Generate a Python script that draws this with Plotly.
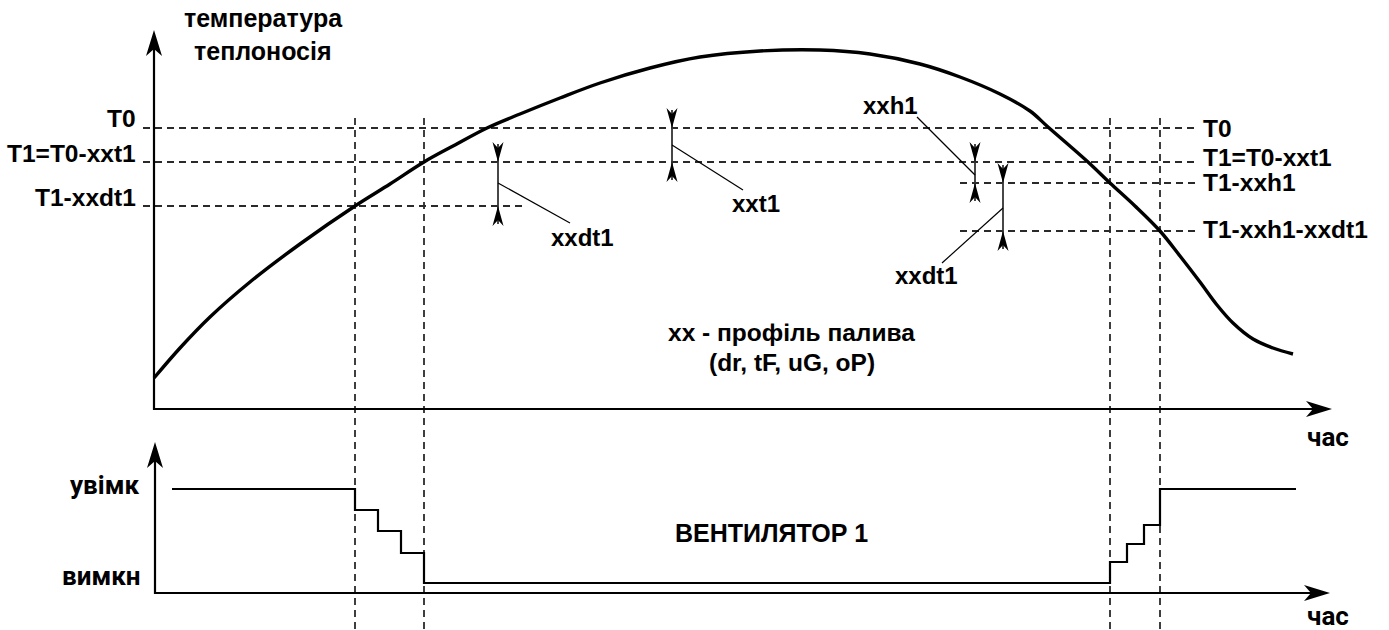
import plotly.graph_objects as go

W, H = 1389, 630

# temperature of the heat carrier over time (picture units, y grows downward)
curve_t = [154, 180, 210, 250, 300, 355, 390, 424, 455, 487, 520, 560, 600, 650, 700, 760,
           820, 870, 920, 960, 1000, 1030, 1048, 1088, 1110, 1135, 1160, 1180, 1200,
           1217, 1233, 1253, 1273, 1293]
curve_y = [378, 348, 317, 282, 244, 206, 184, 162, 145, 128, 114, 98, 83, 68, 57, 51,
           50, 54, 64, 77, 94, 111, 127, 162, 183, 206, 231, 256, 282,
           305, 323, 339, 348, 354]

# threshold levels
level_left = ["T0", "T1=T0-xxt1", "T1-xxdt1"]
level_left_y = [118, 153, 197]
level_right = ["T0", "T1=T0-xxt1", "T1-xxh1", "T1-xxh1-xxdt1"]
level_right_y = [128, 157, 182, 229]
level_y = [128, 162, 206, 183, 231]
level_x0 = [143, 143, 143, 960, 960]
level_x1 = [1197, 1197, 525, 1197, 1197]

# moments when the fan switches
switch_t = [355, 424, 1110, 1160]

# fan state (steps)
fan_t = [172, 355, 378, 401, 424, 1110, 1127, 1144, 1160, 1296]
fan_y = [489, 510, 531, 553, 583, 562, 544, 525, 489, 489]

# dimension markers between levels
dim_x = [498, 672, 975, 1003]
dim_top = [162, 128, 162, 183]
dim_bot = [206, 162, 183, 231]
dim_lead_y = [183, 145, 175, 208]
dim_lead_x1 = [570, 743, 917, 942]
dim_lead_y1 = [223, 190, 117, 263]
dim_label = ["xxdt1", "xxt1", "xxh1", "xxdt1"]
dim_label_x = [582, 756, 890, 926]
dim_label_y = [237, 203, 105, 275]

# axes: origin, top of y arrow, end of x arrow
axes_x0 = [154, 155]
axes_y0 = [409, 593]
axes_ytop = [30, 442]
axes_xend = [1332, 1330]

BOLD = "Liberation Sans"
NARROW = "Liberation Sans Narrow, Roboto"


def head(tx, ty, dx, dy, length=26, half=8, notch=7):
    bx, by = tx - length * dx, ty - length * dy
    px, py = -dy, dx
    nx, ny = tx - (length - notch) * dx, ty - (length - notch) * dy
    pts = [(tx, ty), (bx + half * px, by + half * py), (nx, ny), (bx - half * px, by - half * py)]
    return dict(type="path", xref="x", yref="y", line=dict(width=0), fillcolor="black",
                path="M" + " L".join(f"{x},{y}" for x, y in pts) + " Z")


fig = go.Figure()

# dashed guide lines
hx, hy = [], []
for y, x0, x1 in zip(level_y, level_x0, level_x1):
    hx += [x0, x1, None]
    hy += [y, y, None]
for t in switch_t:
    hx += [t, t, None]
    hy += [118, H, None]
fig.add_trace(go.Scatter(x=hx, y=hy, mode="lines",
                         line=dict(color="#2a2a2a", width=1.8, dash="7px,5px")))

# axes
ax_x, ax_y = [], []
for x0, y0, yt, xe in zip(axes_x0, axes_y0, axes_ytop, axes_xend):
    ax_x += [x0, x0, xe - 10, None]
    ax_y += [yt + 10, y0, y0, None]
fig.add_trace(go.Scatter(x=ax_x, y=ax_y, mode="lines", line=dict(color="black", width=2.2)))

# temperature curve
fig.add_trace(go.Scatter(x=curve_t, y=curve_y, mode="lines",
                         line=dict(color="black", width=3.4, shape="spline", smoothing=1)))

# fan state
fig.add_trace(go.Scatter(x=fan_t, y=fan_y, mode="lines",
                         line=dict(color="black", width=2.2, shape="hv")))

# dimension markers
dx_, dy_ = [], []
for x, t, b in zip(dim_x, dim_top, dim_bot):
    dx_ += [x, x, None]
    dy_ += [t - 18, b + 18, None]
fig.add_trace(go.Scatter(x=dx_, y=dy_, mode="lines", line=dict(color="#333", width=1.8)))
lx_, ly_ = [], []
for x, ly, lx1, ly1 in zip(dim_x, dim_lead_y, dim_lead_x1, dim_lead_y1):
    lx_ += [x, lx1, None]
    ly_ += [ly, ly1, None]
fig.add_trace(go.Scatter(x=lx_, y=ly_, mode="lines", line=dict(color="black", width=1.2)))

shapes = []
for x0, y0, yt, xe in zip(axes_x0, axes_y0, axes_ytop, axes_xend):
    shapes.append(head(x0, yt, 0, -1))
    shapes.append(head(xe, y0, 1, 0))
for x, t, b in zip(dim_x, dim_top, dim_bot):
    shapes.append(head(x, t, 0, 1, length=20, half=5.5, notch=6))
    shapes.append(head(x, b, 0, -1, length=20, half=5.5, notch=6))

ann = []
for txt, y in zip(level_left, level_left_y):
    ann.append(dict(x=138, y=y, text=txt, xanchor="right",
                    font=dict(family=BOLD, size=24.5, weight="bold")))
for txt, y in zip(level_right, level_right_y):
    ann.append(dict(x=1201, y=y, text=txt, xanchor="left",
                    font=dict(family=BOLD, size=24.5, weight="bold")))
for txt, x, y in zip(dim_label, dim_label_x, dim_label_y):
    ann.append(dict(x=x, y=y, text=txt, font=dict(family=BOLD, size=24, weight="bold")))
ann += [
    dict(x=263, y=18, text="температура", font=dict(family=BOLD, size=25, weight="bold")),
    dict(x=263, y=51, text="теплоносія", font=dict(family=BOLD, size=25, weight="bold")),
    dict(x=791, y=332, text="xx - профіль палива", font=dict(family=BOLD, size=24.5, weight="bold")),
    dict(x=792, y=362, text="(dr, tF, uG, oP)", font=dict(family=BOLD, size=24.5, weight="bold")),
    dict(x=771, y=533, text="ВЕНТИЛЯТОР 1", font=dict(family=BOLD, size=25, weight="bold")),
    dict(x=141, y=485, text="увімк", xanchor="right", font=dict(family=NARROW, size=26, weight="bold")),
    dict(x=143, y=576, text="вимкн", xanchor="right", font=dict(family=NARROW, size=26, weight="bold")),
    dict(x=1328, y=437, text="час", font=dict(family=NARROW, size=26, weight="bold")),
    dict(x=1328, y=616, text="час", font=dict(family=NARROW, size=26, weight="bold")),
]
for a in ann:
    a.setdefault("xanchor", "center")
    a.setdefault("yanchor", "middle")
    a["showarrow"] = False
    a["xref"] = "x"
    a["yref"] = "y"
    a["font"]["color"] = "black"

fig.update_layout(
    width=W, height=H, autosize=False,
    margin=dict(l=0, r=0, t=0, b=0),
    paper_bgcolor="white", plot_bgcolor="white",
    showlegend=False,
    xaxis=dict(range=[0, W], visible=False, fixedrange=True),
    yaxis=dict(range=[H, 0], visible=False, fixedrange=True),
    shapes=shapes, annotations=ann,
)

fig.write_html("out.html", config={"displayModeBar": False},
               post_script="document.body.style.margin='0px';")
